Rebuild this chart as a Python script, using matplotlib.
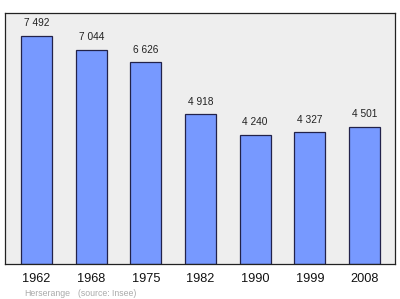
import matplotlib
matplotlib.use('Agg')
import matplotlib.pyplot as plt

plt.rcParams['font.family'] = ['Liberation Sans', 'DejaVu Sans']

years = ['1962', '1968', '1975', '1982', '1990', '1999', '2008']
population = [7492, 7044, 6626, 4918, 4240, 4327, 4501]
value_labels = ['7 492', '7 044', '6 626', '4 918', '4 240', '4 327', '4 501']

fig = plt.figure(figsize=(4.0, 2.99), dpi=100)
ax = fig.add_axes([0.0125, 0.117, 0.975, 0.8395])
ax.set_facecolor('#eeeeee')

x = range(len(years))
ax.bar(x, population, width=0.57, color='#7799ff', edgecolor='#22224a', linewidth=0.9, zorder=2)
for i, v in enumerate(population):
    ax.annotate(value_labels[i], (i, v), xytext=(0, 5.5), textcoords='offset points',
                ha='center', va='bottom', fontsize=7.3, color='#222222')

ax.set_xlim(-0.58, 6.56)
ax.set_ylim(0, 8250)
ax.set_xticks(list(x))
ax.set_xticklabels(years, fontsize=9.2, color='#111111')
ax.tick_params(axis='x', length=0, pad=6.5)
ax.set_yticks([])
for s in ax.spines.values():
    s.set_color('#222222')
    s.set_linewidth(0.9)

fig.text(24 / 400, 1 - 293 / 299, 'Herserange', fontsize=6.3, color='#aaaaaa', va='center')
fig.text(78 / 400, 1 - 293 / 299, '(source: Insee)', fontsize=6.3, color='#aaaaaa', va='center')

fig.savefig('out.png', dpi=100)
